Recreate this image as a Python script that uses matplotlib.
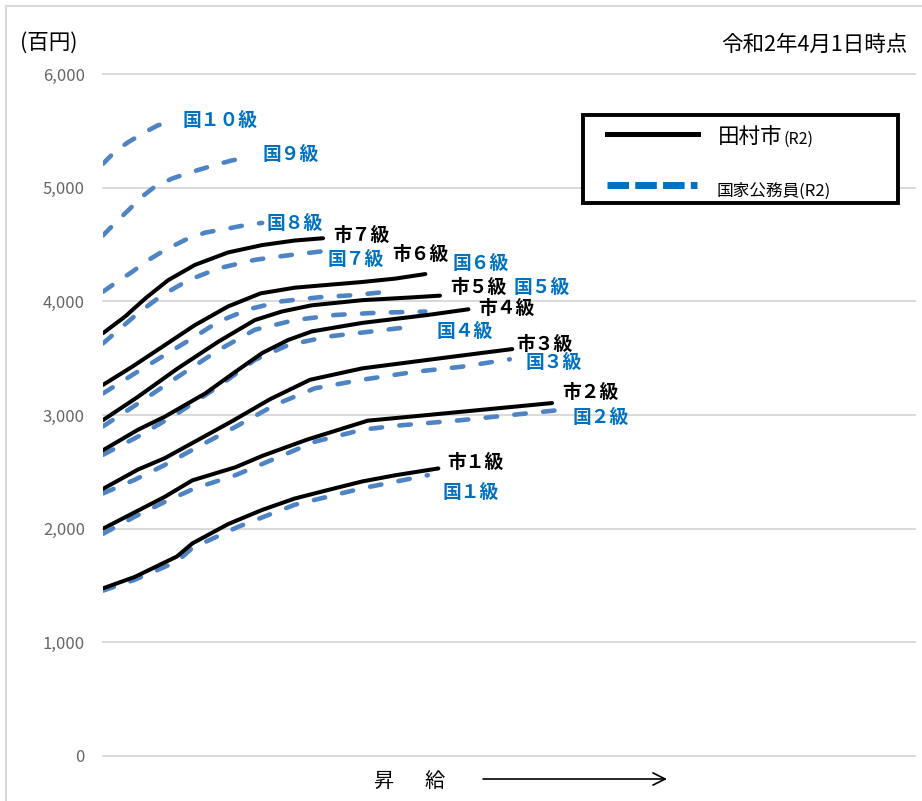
import matplotlib
matplotlib.use("Agg")
import matplotlib.pyplot as plt
from matplotlib.lines import Line2D
from matplotlib.patches import Rectangle

plt.rcParams['font.family'] = ['Noto Sans CJK JP', 'DejaVu Sans']

# 給料月額（百円）、横軸は昇給の段階（目盛りなし、0〜100）
city1_x = [0, 3.9, 9.1, 11.0, 15.4, 19.6, 23.6, 27.7, 31.9, 36.0, 41.3]
city1_y = [1475, 1575, 1755, 1870, 2040, 2165, 2265, 2340, 2415, 2470, 2530]
city2_x = [0, 7.6, 11.0, 16.3, 19.6, 25.2, 32.6, 40.0, 55.3]
city2_y = [2000, 2280, 2425, 2540, 2640, 2785, 2950, 3000, 3105]
city3_x = [0, 4.3, 7.6, 11.3, 16.0, 20.6, 25.5, 31.9, 40.0, 50.4]
city3_y = [2350, 2520, 2620, 2765, 2950, 3140, 3310, 3410, 3485, 3580]
city4_x = [0, 4.3, 7.6, 12.6, 16.3, 19.6, 22.8, 25.7, 31.9, 40.0, 45.0]
city4_y = [2690, 2870, 2985, 3190, 3380, 3545, 3660, 3735, 3810, 3880, 3930]
city5_x = [0, 4.3, 9.2, 14.2, 18.7, 22.0, 25.7, 31.9, 38.1, 41.5]
city5_y = [2955, 3160, 3410, 3645, 3835, 3910, 3965, 4010, 4035, 4050]
city6_x = [0, 3.6, 7.3, 11.3, 15.4, 19.4, 23.6, 27.7, 31.9, 36.0, 39.7]
city6_y = [3265, 3425, 3600, 3790, 3955, 4070, 4120, 4145, 4170, 4200, 4240]
city7_x = [0, 2.7, 5.2, 8.0, 11.3, 15.4, 19.6, 23.6, 27.1]
city7_y = [3720, 3865, 4025, 4185, 4320, 4430, 4495, 4535, 4555]

nat1_x = [0, 3.9, 9.1, 11.0, 16.6, 23.6, 31.9, 40.0]
nat1_y = [1455, 1550, 1710, 1830, 2015, 2210, 2355, 2470]
nat2_x = [0, 3.9, 7.6, 11.3, 16.3, 20.8, 26.1, 31.9, 36.0, 44.2, 55.7]
nat2_y = [1955, 2105, 2235, 2355, 2470, 2605, 2765, 2870, 2905, 2955, 3040]
nat3_x = [0, 3.9, 7.6, 11.3, 16.3, 21.2, 26.1, 31.9, 38.4, 44.2, 50.1]
nat3_y = [2310, 2430, 2560, 2705, 2895, 3090, 3235, 3310, 3380, 3425, 3490]
nat4_x = [0, 4.3, 9.2, 14.2, 18.7, 22.8, 27.7, 33.1, 38.4]
nat4_y = [2650, 2810, 3015, 3250, 3485, 3615, 3690, 3735, 3780]
nat5_x = [0, 4.3, 9.2, 14.2, 18.7, 23.6, 28.6, 33.9, 39.7]
nat5_y = [2900, 3100, 3335, 3570, 3750, 3835, 3880, 3900, 3910]
nat6_x = [0, 3.9, 7.3, 11.0, 14.2, 17.9, 22.0, 26.5, 31.0, 35.1]
nat6_y = [3190, 3365, 3515, 3675, 3820, 3930, 4000, 4035, 4055, 4085]
nat7_x = [0, 4.3, 7.3, 10.5, 14.2, 18.7, 22.8, 27.0]
nat7_y = [3630, 3895, 4055, 4185, 4290, 4365, 4405, 4440]
nat8_x = [0, 1.5, 3.6, 5.5, 7.6, 10.1, 12.6, 15.0, 17.5, 19.6]
nat8_y = [4085, 4160, 4260, 4360, 4450, 4540, 4605, 4635, 4670, 4690]
nat9_x = [0, 1.5, 3.1, 4.8, 6.4, 8.5, 11.0, 13.8, 15.9, 17.9]
nat9_y = [4580, 4690, 4800, 4920, 5010, 5080, 5140, 5200, 5240, 5265]
nat10_x = [0, 1.5, 3.1, 5.2, 6.8, 8.9]
nat10_y = [5210, 5320, 5400, 5490, 5550, 5580]

city_series = [(city1_x, city1_y), (city2_x, city2_y), (city3_x, city3_y), (city4_x, city4_y),
               (city5_x, city5_y), (city6_x, city6_y), (city7_x, city7_y)]
nat_series = [(nat1_x, nat1_y), (nat2_x, nat2_y), (nat3_x, nat3_y), (nat4_x, nat4_y),
              (nat5_x, nat5_y), (nat6_x, nat6_y), (nat7_x, nat7_y), (nat8_x, nat8_y),
              (nat9_x, nat9_y), (nat10_x, nat10_y)]

city_labels = ['市１級', '市２級', '市３級', '市４級', '市５級', '市６級', '市７級']
nat_labels = ['国１級', '国２級', '国３級', '国４級', '国５級', '国６級', '国７級',
              '国８級', '国９級', '国１０級']

y_ticks = [0, 1000, 2000, 3000, 4000, 5000, 6000]

# label anchor positions (left edge, middle) in data units
city_label_pos = [(42.4, 2586), (56.5, 3202), (50.9, 3624), (46.2, 3941),
                  (42.7, 4126), (35.6, 4416), (28.4, 4583)]
nat_label_pos = [(41.8, 2322), (57.8, 2982), (52.0, 3466), (41.1, 3739),
                 (50.5, 4126), (43.1, 4337), (27.6, 4372), (20.1, 4689),
                 (19.7, 5296), (9.85, 5595)]

W, H = 922, 801
BLUE_LINE = '#4F84C4'
BLUE_TEXT = '#0070C0'

fig = plt.figure(figsize=(W / 100, H / 100), dpi=100)
ax = fig.add_axes([103 / W, 1 - 756 / H, (915 - 103) / W, (756 - 74) / H])
ax.set_xlim(0, 100)
ax.set_ylim(0, 6000)
for s in ax.spines.values():
    s.set_visible(False)
ax.set_xticks([])
ax.set_yticks(y_ticks)
ax.set_yticklabels([f'{v:,}' for v in y_ticks])
ax.tick_params(axis='y', length=0, pad=13, labelsize=12, labelcolor='#666666')
for v in y_ticks:
    ax.axhline(v, color='#D9D9D9', lw=1.4, zorder=0, clip_on=False)

for xs, ys in nat_series:
    ax.plot(xs, ys, color=BLUE_LINE, lw=3.3, linestyle=(0, (2.5, 3.8)),
            dash_capstyle='round', zorder=2)
for xs, ys in city_series:
    ax.plot(xs, ys, color='black', lw=2.9, solid_capstyle='round',
            solid_joinstyle='round', zorder=3)

for lab, (lx, ly) in zip(city_labels, city_label_pos):
    ax.text(lx, ly, lab, color='black', fontsize=13.5, fontweight='bold',
            ha='left', va='center', zorder=4)
for lab, (lx, ly) in zip(nat_labels, nat_label_pos):
    ax.text(lx, ly, lab, color=BLUE_TEXT, fontsize=13.5, fontweight='bold',
            ha='left', va='center', zorder=4)

# header texts
fig.text(20 / W, 1 - 43 / H, '(百円)', fontsize=15.5, ha='left', va='center')
fig.text(907 / W, 1 - 45 / H, '令和2年4月1日時点', fontsize=15.5, ha='right', va='center')

# x axis caption with arrow
fig.text(383 / W, 1 - 781 / H, '昇', fontsize=14.5, ha='center', va='center')
fig.text(435 / W, 1 - 781 / H, '給', fontsize=14.5, ha='center', va='center')
ax.annotate('', xy=(667 / W, 1 - 779 / H), xytext=(483 / W, 1 - 779 / H),
            xycoords='figure fraction', textcoords='figure fraction',
            arrowprops=dict(arrowstyle='->', lw=1.2, color='black', mutation_scale=22,
                            shrinkA=0, shrinkB=0))

# legend box
fig.add_artist(Rectangle((583 / W, 1 - 203 / H), (898 - 583) / W, (203 - 115) / H,
                         transform=fig.transFigure, facecolor='white',
                         edgecolor='black', lw=2.8, zorder=5))
fig.add_artist(Line2D([607 / W, 698 / W], [1 - 134 / H] * 2, color='black', lw=3.6,
                      zorder=6))
fig.add_artist(Line2D([607 / W, 697 / W], [1 - 185 / H] * 2, color=BLUE_TEXT, lw=5,
                      linestyle=(0, (3.1, 0.9)), dash_capstyle='butt', zorder=6))
fig.text(718 / W, 1 - 137 / H, '田村市', fontsize=15.5, ha='left', va='center', zorder=6)
fig.text(783 / W, 1 - 139 / H, '(R2)', fontsize=11.5, ha='left', va='center', zorder=6)
fig.text(717 / W, 1 - 191 / H, '国家公務員(R2)', fontsize=12, ha='left', va='center', zorder=6)

# chart area border (left and top edges visible)
fig.add_artist(Line2D([5.5 / W, 5.5 / W], [0, 1 - 6 / H], color='#D9D9D9', lw=1.5))
fig.add_artist(Line2D([5.5 / W, 1], [1 - 6 / H] * 2, color='#D9D9D9', lw=1.5))

fig.savefig('out.png', dpi=100)
